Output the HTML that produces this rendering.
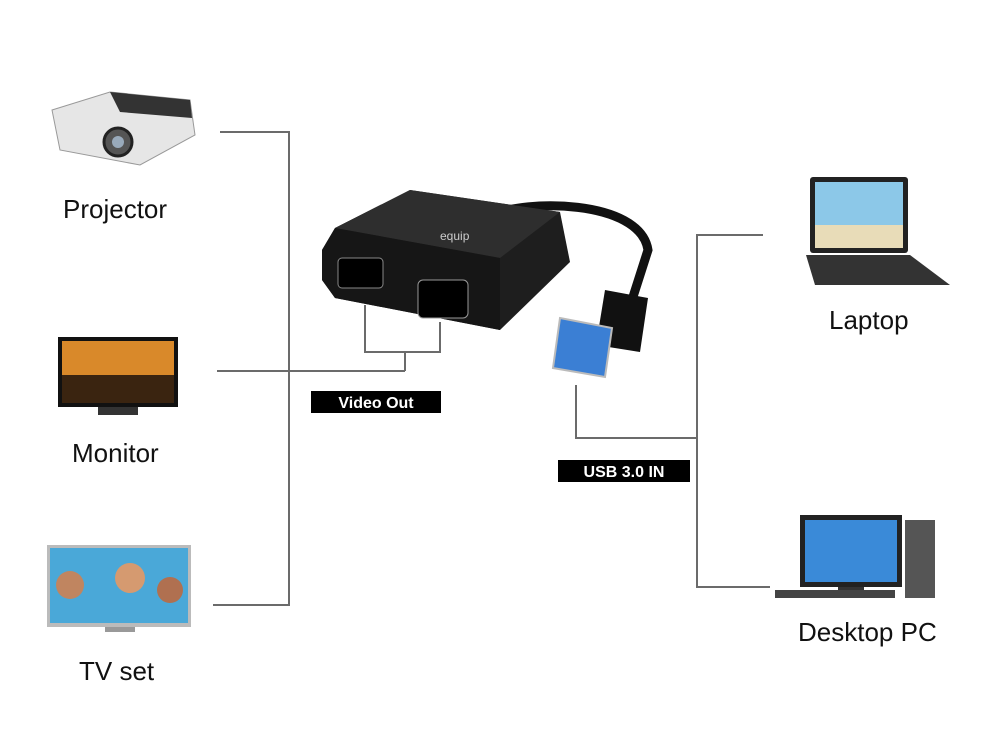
<!DOCTYPE html>
<html><head><meta charset="utf-8"><style>
html,body{margin:0;padding:0;background:#fff;}
svg{display:block}
</style></head><body>
<svg width="992" height="744" viewBox="0 0 992 744" xmlns="http://www.w3.org/2000/svg" font-family="Liberation Sans, sans-serif">
<rect width="992" height="744" fill="#fff"/>
<g stroke="#6b6b6b" stroke-width="2" fill="none">
<polyline points="220,132 289,132 289,605 213,605"/>
<line x1="217" y1="371" x2="405" y2="371"/>
<polyline points="365,305 365,352 440,352 440,322"/>
<line x1="405" y1="352" x2="405" y2="371"/>
<polyline points="763,235 697,235 697,587 770,587"/>
<polyline points="576,385 576,438 697,438"/>
</g>
<rect x="311" y="391" width="130" height="22" fill="#000"/>
<text x="376" y="408" font-size="16" font-weight="bold" fill="#fff" text-anchor="middle">Video Out</text>
<rect x="558" y="460" width="132" height="22" fill="#000"/>
<text x="624" y="477" font-size="16" font-weight="bold" fill="#fff" text-anchor="middle">USB 3.0 IN</text>
<g font-size="26" fill="#111">
<text x="63" y="218">Projector</text>
<text x="72" y="462">Monitor</text>
<text x="79" y="680">TV set</text>
<text x="829" y="329">Laptop</text>
<text x="798" y="641">Desktop PC</text>
</g>
<!-- projector -->
<path d="M52,110 L110,92 L190,100 L195,135 L140,165 L60,150 Z" fill="#e6e6e6" stroke="#999"/>
<path d="M110,92 L190,100 L192,118 L120,112 Z" fill="#333"/>
<circle cx="118" cy="142" r="14" fill="#555" stroke="#222" stroke-width="3"/>
<circle cx="118" cy="142" r="6" fill="#9ab"/>
<!-- monitor -->
<rect x="58" y="337" width="120" height="70" fill="#111"/>
<rect x="62" y="341" width="112" height="62" fill="#d9892a"/>
<rect x="62" y="375" width="112" height="28" fill="#3a2410"/>
<rect x="98" y="407" width="40" height="8" fill="#333"/>
<!-- TV -->
<rect x="47" y="545" width="144" height="82" fill="#bbb"/>
<rect x="50" y="548" width="138" height="75" fill="#4aa8d8"/>
<circle cx="70" cy="585" r="14" fill="#c08560"/>
<circle cx="130" cy="578" r="15" fill="#d59a70"/>
<circle cx="170" cy="590" r="13" fill="#b07050"/>
<rect x="105" y="627" width="30" height="5" fill="#999"/>
<!-- laptop -->
<rect x="810" y="177" width="98" height="76" rx="3" fill="#222"/>
<rect x="815" y="182" width="88" height="66" fill="#8cc8e8"/>
<rect x="815" y="225" width="88" height="23" fill="#e8dcb8"/>
<path d="M806,255 L910,255 L950,285 L815,285 Z" fill="#333"/>
<!-- desktop -->
<rect x="800" y="515" width="102" height="72" fill="#222"/>
<rect x="805" y="520" width="92" height="62" fill="#3a8ad8"/>
<rect x="905" y="520" width="30" height="78" fill="#555"/>
<rect x="838" y="587" width="26" height="8" fill="#333"/>
<rect x="775" y="590" width="120" height="8" fill="#444"/>
<!-- adapter -->
<path d="M495,215 C520,200 640,198 648,250 L632,300" stroke="#111" stroke-width="9" fill="none"/>
<path d="M335,228 L410,190 L560,212 L570,262 L500,330 L335,298 L322,280 L322,250 Z" fill="#1e1e1e"/>
<path d="M335,228 L410,190 L560,212 L500,258 Z" fill="#2e2e2e"/>
<path d="M322,250 L335,228 L500,258 L500,330 L335,298 L322,280 Z" fill="#161616"/>
<rect x="338" y="258" width="45" height="30" rx="4" fill="#000" stroke="#888"/>
<rect x="418" y="280" width="50" height="38" rx="5" fill="#000" stroke="#999"/>
<text x="440" y="240" font-size="12" fill="#ccc">equip</text>
<!-- usb plug -->
<path d="M605,290 L648,298 L640,352 L596,345 Z" fill="#111"/>
<path d="M560,318 L612,328 L605,377 L553,368 Z" fill="#3b7fd4" stroke="#bbb" stroke-width="2"/>
</svg>
</body></html>
